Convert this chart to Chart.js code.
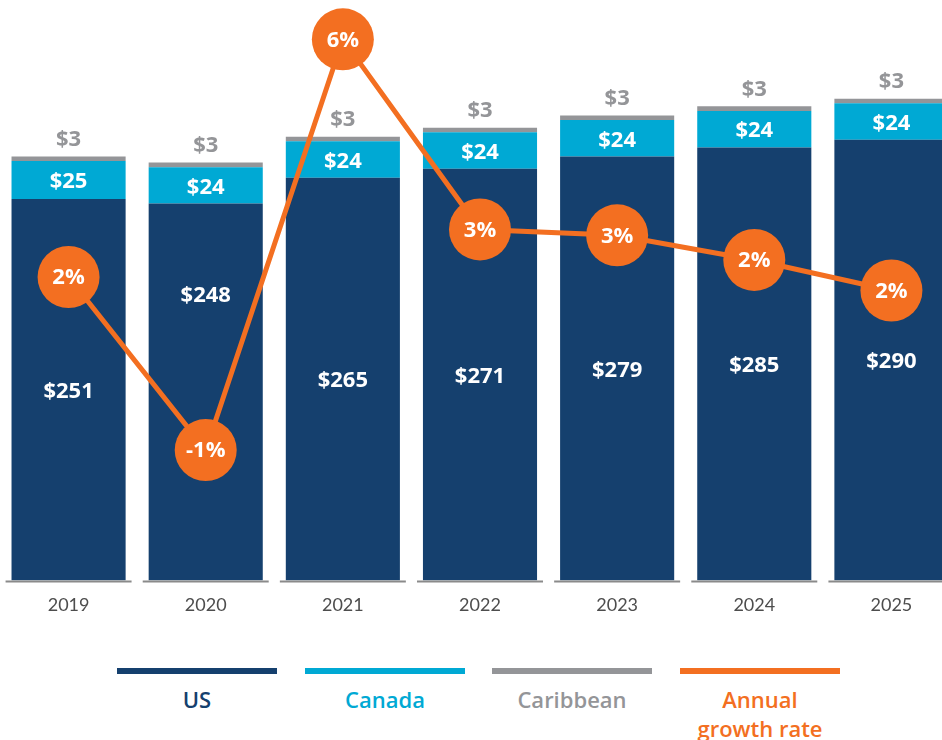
<!DOCTYPE html>
<html>
<head>
<meta charset="utf-8">
<script src="https://cdn.jsdelivr.net/npm/chart.js@4"></script>
<style>
  html, body { margin: 0; padding: 0; width: 942px; height: 740px; overflow: hidden; background: #fff; }
  #wrap { position: absolute; left: 0; top: 0; width: 960px; height: 640px; }
  #legend { position: absolute; left: 0; top: 668px; width: 942px; height: 72px; }
  .item { position: absolute; top: 0; width: 160px; text-align: center; font-family: "Open Sans", sans-serif; font-weight: 600; font-size: 22px; line-height: 29px; }
  .swatch { height: 6px; width: 160px; margin-bottom: 11px; }
</style>
</head>
<body>
<div id="wrap"><canvas id="c" width="960" height="640"></canvas></div>
<div id="legend"></div>
<script>
const years = ["2019", "2020", "2021", "2022", "2023", "2024", "2025"];
const usValues = [251, 248, 265, 271, 279, 285, 290];
const canadaValues = [25, 24, 24, 24, 24, 24, 24];
const caribbeanValues = [3, 3, 3, 3, 3, 3, 3];
const growthValues = [1.95, -1.0, 6.0, 2.76, 2.66, 2.24, 1.72];
const growthLabels = ["2%", "-1%", "6%", "3%", "3%", "2%", "2%"];
const seriesNames = ["US", "Canada", "Caribbean", "Annual growth rate"];

const NAVY = "#15406E", CYAN = "#00A9D4", GREY = "#949598", ORANGE = "#F36F21";
const colors = [NAVY, CYAN, GREY, ORANGE];
// label nudges (styling): US label for 2020 is lifted to clear the growth line
const usLabelLift = { 1: 98 };

// legend (HTML text)
const legendX = [117, 305, 492, 680];
const lg = document.getElementById("legend");
seriesNames.forEach((n, i) => {
  const d = document.createElement("div");
  d.className = "item";
  d.style.left = legendX[i] + "px";
  d.style.color = colors[i];
  const sw = document.createElement("div");
  sw.className = "swatch";
  sw.style.background = colors[i];
  d.appendChild(sw);
  const t = document.createElement("div");
  t.innerHTML = i === 3 ? "Annual<br>growth rate" : n;
  d.appendChild(t);
  lg.appendChild(d);
});

const labelPlugin = {
  id: "labels",
  afterDatasetDraw(chart, args) {
    const ctx = chart.ctx;
    const meta = args.meta;
    const ds = chart.data.datasets[args.index];
    ctx.save();
    ctx.textAlign = "center";
    ctx.textBaseline = "middle";
    ctx.font = "bold 22px 'Open Sans', sans-serif";
    if (meta.type === "bar") {
      meta.data.forEach((bar, i) => {
        const v = ds.data[i];
        if (ds.label === "Caribbean") {
          ctx.fillStyle = GREY;
          ctx.fillText("$" + v, bar.x, bar.y - 17);
        } else {
          ctx.fillStyle = "#ffffff";
          let yy = (bar.y + bar.base) / 2 + 2;
          if (ds.label === "US" && usLabelLift[i]) yy -= usLabelLift[i];
          ctx.fillText("$" + v, bar.x, yy);
        }
      });
    } else {
      meta.data.forEach((pt, i) => {
        ctx.fillStyle = "#ffffff";
        ctx.fillText(growthLabels[i], pt.x, pt.y + 1);
      });
    }
    ctx.restore();
  },
  afterDatasetsDraw(chart) {
    const ctx = chart.ctx;
    const xs = chart.scales.x;
    const y = chart.chartArea.bottom + 1;
    ctx.save();
    ctx.strokeStyle = "#8a8a8a";
    ctx.lineWidth = 2;
    years.forEach((_, i) => {
      const cx = xs.getPixelForValue(i);
      ctx.beginPath();
      ctx.moveTo(cx - 63, y);
      ctx.lineTo(cx + 63, y);
      ctx.stroke();
    });
    ctx.restore();
  }
};

new Chart(document.getElementById("c"), {
  data: {
    labels: years,
    datasets: [
      { type: "line", label: seriesNames[3], data: growthValues, yAxisID: "y2", order: 0,
        borderColor: ORANGE, backgroundColor: ORANGE, borderWidth: 5, pointRadius: 31,
        pointBackgroundColor: ORANGE, pointBorderWidth: 0, tension: 0, clip: false },
      { type: "bar", label: seriesNames[0], data: usValues, backgroundColor: NAVY, stack: "s", order: 1 },
      { type: "bar", label: seriesNames[1], data: canadaValues, backgroundColor: CYAN, stack: "s", order: 1 },
      { type: "bar", label: seriesNames[2], data: caribbeanValues, backgroundColor: GREY, stack: "s", order: 1 }
    ]
  },
  options: {
    responsive: false,
    animation: false,
    events: [],
    layout: { autoPadding: false, padding: { left: 0, right: 0, top: 0, bottom: 10 } },
    datasets: { bar: { barPercentage: 0.832, categoryPercentage: 1.0 } },
    plugins: { legend: { display: false }, tooltip: { enabled: false } },
    scales: {
      x: {
        stacked: true, offset: true,
        grid: { display: false, drawTicks: false },
        border: { display: false },
        ticks: { color: "#4d4d4d", padding: 14, font: { family: "Lato, 'Open Sans', sans-serif", size: 18, weight: 400 } }
      },
      y: { stacked: true, display: false, min: 0, max: 382 },
      y2: { display: false, min: -3.22, max: 6.67 }
    }
  },
  plugins: [labelPlugin]
});
</script>
</body>
</html>
